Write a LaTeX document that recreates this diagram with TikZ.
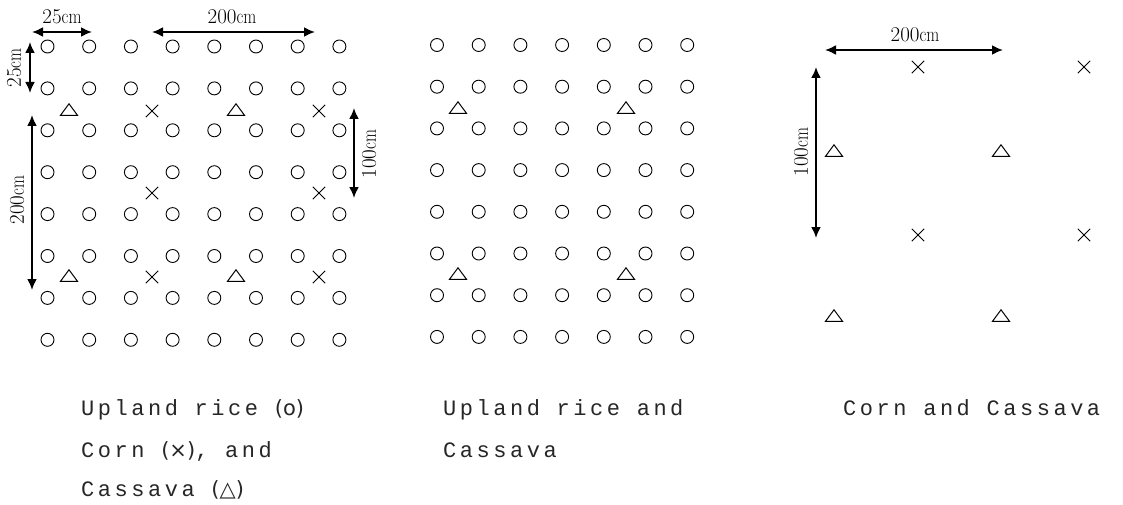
\documentclass[tikz,border=0pt]{standalone}
\usepackage{fontspec}
\usepackage{tikz}
\usetikzlibrary{positioning, arrows.meta, shapes.geometric, shapes.misc}
\newfontfamily\typewfont[LetterSpace=16]{Liberation Mono}
\newfontfamily\symfont{DejaVu Sans}
\newcommand{\cmunit}{\scalebox{0.8}[1]{cm}}
\newcommand{\marksym}[1]{{\fontsize{21}{21}\symfont(#1)}}

\begin{document}
\begin{tikzpicture}[x=1pt, y=-1pt,
  every node/.style={font=\fontsize{21}{21}\selectfont},
  rice/.style={draw, circle, line width=0.9pt, minimum size=13pt, inner sep=0pt},
  corn/.style={draw, cross out, line width=0.9pt, minimum size=11.5pt,
    inner sep=0pt},
  cassava/.style={draw, isosceles triangle, isosceles triangle apex angle=76,
    isosceles triangle stretches, shape border rotate=90, line width=1pt,
    minimum width=17pt, minimum height=11.5pt, inner sep=0pt},
  dimarr/.style={{Latex[length=11pt,width=10pt]}-{Latex[length=11pt,width=10pt]},
    line width=2pt},
  dimlabel/.style={inner sep=0pt},
  caption/.style={font=\typewfont\fontsize{22}{22}\selectfont, text=black!85,
    anchor=base west, inner sep=0pt}
]
  \useasboundingbox (0,0) rectangle (1123,505);

  % Upland rice, corn and cassava
  \foreach \i in {0,...,7}
    \foreach \j in {0,...,7}
      \node[rice] (a-\i-\j) at ({47.5+41.7*\i},{46.5+41.9*\j}) {};
  \node[cassava] (ta1) at (69,111) {};
  \node[cassava] (ta2) at (236,111) {};
  \node[cassava] (ta3) at (69,277) {};
  \node[cassava] (ta4) at (236,277) {};
  \node[corn] (xa1) at (152,111) {};
  \node[corn] (xa2) at (319,111) {};
  \node[corn] (xa3) at (152,193) {};
  \node[corn] (xa4) at (319,193) {};
  \node[corn] (xa5) at (152,277) {};
  \node[corn] (xa6) at (319,277) {};

  % Dimensions
  \coordinate (h25a) at (32,32);
  \coordinate (h25b) at (92,32);
  \coordinate (h200a) at (152,32);
  \coordinate (h200b) at (315,32);
  \coordinate (v25a) at (30,42);
  \coordinate (v25b) at (30,93);
  \coordinate (v200a) at (32,115);
  \coordinate (v200b) at (32,290);
  \coordinate (v100a) at (354,108);
  \coordinate (v100b) at (354,198);
  \draw[dimarr] (h25a) -- (h25b);
  \draw[dimarr] (h200a) -- (h200b);
  \draw[dimarr] (v25a) -- (v25b);
  \draw[dimarr] (v200a) -- (v200b);
  \draw[dimarr] (v100a) -- (v100b);
  \node[dimlabel] (lh25) at (62,17) {25\cmunit};
  \node[dimlabel] (lh200) at (232,17) {200\cmunit};
  \node[dimlabel, rotate=90] (lv25) at (14,68) {25\cmunit};
  \node[dimlabel, rotate=90] (lv200) at (17,200) {200\cmunit};
  \node[dimlabel, rotate=90] (lv100) at (369,154) {100\cmunit};

  % Upland rice and cassava
  \foreach \i in {0,...,6}
    \foreach \j in {0,...,7}
      \node[rice] (b-\i-\j) at ({437+41.7*\i},{45+41.7*\j}) {};
  \node[cassava] (tb1) at (458,109) {};
  \node[cassava] (tb2) at (626,109) {};
  \node[cassava] (tb3) at (458,275) {};
  \node[cassava] (tb4) at (626,275) {};

  % Corn and cassava
  \node[corn] (xc1) at (918,67) {};
  \node[corn] (xc2) at (1084,67) {};
  \node[corn] (xc3) at (918,235) {};
  \node[corn] (xc4) at (1084,235) {};
  \node[cassava] (tc1) at (834,152) {};
  \node[cassava] (tc2) at (1001,152) {};
  \node[cassava] (tc3) at (834,317) {};
  \node[cassava] (tc4) at (1001,317) {};
  \coordinate (hc200a) at (825,50);
  \coordinate (hc200b) at (1003,50);
  \coordinate (vc100a) at (816,67);
  \coordinate (vc100b) at (816,238);
  \draw[dimarr] (hc200a) -- (hc200b);
  \draw[dimarr] (vc100a) -- (vc100b);
  \node[dimlabel] (lhc200) at (915,35) {200\cmunit};
  \node[dimlabel, rotate=90] (lvc100) at (801,152) {100\cmunit};

  % Captions
  \node[caption] (cap1a) at (81,415) {Upland rice \marksym{o}};
  \node[caption] (cap1b) at (81,457) {Corn \marksym{×}, and};
  \node[caption] (cap1c) at (81,496) {Cassava \marksym{△}};
  \node[caption] (cap2a) at (443,415) {Upland rice and};
  \node[caption] (cap2b) at (443,457) {Cassava};
  \node[caption] (cap3a) at (843,415) {Corn and Cassava};
\end{tikzpicture}
\end{document}
